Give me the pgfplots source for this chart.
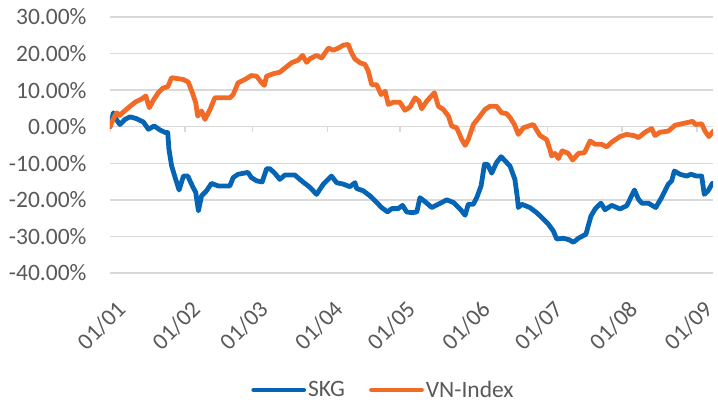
\documentclass[border=0pt]{standalone}
\usepackage{pgfplots}
\pgfplotsset{compat=1.18}
\usepackage{fontspec}
\setmainfont{Carlito}
\definecolor{skg}{HTML}{0565B4}
\definecolor{vni}{HTML}{F26B26}
\definecolor{gridc}{HTML}{D9D9D9}
\definecolor{txt}{HTML}{595959}
\begin{document}
\begin{tikzpicture}
\useasboundingbox (-110bp,-130bp) rectangle (608bp,273bp);
\begin{axis}[
  at={(0,0)}, anchor=south west,
  scale only axis, width=603bp, height=256bp,
  xmin=0, xmax=249.6, ymin=-40, ymax=30,
  axis line style={draw=none},
  major tick length=0pt,
  ytick={-40,-30,...,30},
  yticklabels={-40.00\%,-30.00\%,-20.00\%,-10.00\%,0.00\%,10.00\%,20.00\%,30.00\%},
  ymajorgrids, grid style={draw=gridc, line width=1.5bp},
  xtick={0,31,59,90,120,151,181,212,243},
  xticklabels={01/01,01/02,01/03,01/04,01/05,01/06,01/07,01/08,01/09},
  /pgf/number format/assume math mode=true,
  tick label style={font=\fontsize{23.5bp}{28bp}\selectfont, text=txt},
  yticklabel style={xshift=-20bp},
  xticklabel style={rotate=45, anchor=east, inner sep=0pt, yshift=-31bp, xshift=-14.8bp},
  legend style={at={(0.4536,-0.457)}, anchor=center, draw=none, fill=none,
    font=\fontsize{23.5bp}{28bp}\selectfont, text=txt, legend columns=2,
    /tikz/every even column/.append style={column sep=22bp}},
  legend image code/.code={\draw[#1, line cap=round] (0bp,0bp) -- (50bp,0bp);},
  every axis plot/.append style={line width=4.8bp, line join=round, line cap=round, mark=none},
]
\addplot[ycomb, draw=gridc, line width=1.5bp, line cap=butt, forget plot] coordinates {(0,-1.4) (31,-1.4) (59,-1.4) (90,-1.4) (120,-1.4) (151,-1.4) (181,-1.4) (212,-1.4) (243,-1.4)};
\draw[gridc, line width=1.5bp] (axis cs:0,0) -- (axis cs:249.6,0);
\addplot[skg] coordinates {
(0,0) (1.4,3.8) (2.8,1.8) (4.1,0.6) (6.2,2.0) (8.3,2.7) (11,2.2) (13.8,1.3) (15.9,-0.7) (18.3,0.2) (20.7,-0.9) (23,-1.6) (23.9,-1.6) (24.4,-6.2) (25.5,-10.7) (27.2,-14.4) (28.6,-17.3) (30.4,-13.5) (32.2,-13.5) (34.1,-16.2) (35.5,-18) (36.6,-23) (37.9,-18.9) (40,-17.5) (42,-15.5) (44.8,-16.2) (49.6,-16.2) (51,-13.9) (53,-13.0) (57.1,-12.5) (58.5,-13.9) (60.7,-14.8) (63,-15.1) (64.8,-11.5) (66.2,-11.5) (68.2,-12.7) (70.3,-14.4) (72.4,-13.2) (76.5,-13.2) (79.3,-14.8) (82.8,-16.6) (85.5,-18.5) (88.3,-15.7) (91.7,-13.5) (93.8,-15.3) (96.6,-15.7) (99.3,-16.4) (101.4,-15.3) (102.1,-16.9) (104.8,-17.5) (107.6,-18.9) (110.4,-20.7) (112.4,-22.1) (114.9,-23.3) (116.6,-22.4) (119.3,-22.4) (121.1,-21.5) (122.8,-23.3) (124.9,-23.5) (127,-23.3) (128.3,-19.4) (130.4,-20.5) (133.2,-22.1) (135.9,-21.2) (139.4,-20.0) (142.1,-20.7) (144.9,-22.5) (147,-24.2) (148.3,-21.2) (150.4,-21.2) (151.8,-19.4) (153.6,-16.2) (155,-10.3) (156.3,-10.3) (158,-12.7) (160,-9.8) (161.9,-8.2) (163.5,-9.3) (165.6,-10.8) (167.6,-14.4) (168.7,-19.8) (169,-22.1) (170.4,-21.2) (173.8,-22.1) (176.6,-23.5) (178.7,-24.8) (181.4,-26.6) (183.5,-28.5) (184.9,-30.7) (187.6,-30.5) (190,-30.9) (191.8,-31.6) (193.9,-30.5) (197,-29.4) (199.1,-24.4) (200.8,-22.5) (203.2,-20.9) (204.9,-22.7) (207.7,-21.5) (211.1,-22.5) (213.9,-21.6) (217.1,-17.3) (218.7,-19.8) (220.1,-20.9) (222.8,-20.9) (225.9,-22.1) (228.3,-19.4) (231.1,-15.7) (232.5,-14.8) (233.6,-12.1) (235.9,-13.0) (238.7,-13.5) (240.5,-13.0) (242.8,-13.5) (244.9,-13.5) (246,-18.5) (247.6,-17.5) (249.3,-15.5)
};
\addlegendentry{SKG}
\addplot[vni] coordinates {
(0,0) (1.4,2.2) (2.8,3.8) (4.1,3.1) (5.5,4.0) (7.6,5.2) (10.4,6.7) (13.1,7.6) (14.8,8.4) (16.3,5.2) (17.9,7.2) (20,9.3) (22,10.6) (23.9,10.9) (25.5,13.4) (27.6,13.2) (30.4,12.9) (32.4,12.2) (34.1,9.3) (35.5,6.5) (36.3,2.9) (37.9,4.3) (39.3,2.0) (41.4,4.7) (43.4,7.9) (46.2,7.9) (49.6,7.9) (51,8.8) (53,12.0) (55.8,12.9) (58.5,14.0) (60.7,13.8) (62.8,12.0) (63.9,11.3) (64.8,13.8) (67.6,14.5) (70.3,14.9) (73.1,16.4) (75.2,17.5) (77.9,18.2) (79.7,19.5) (81.4,17.6) (82.8,18.6) (85.5,19.5) (87.6,18.8) (90.4,21.5) (92.4,20.9) (94.5,21.5) (96.6,22.3) (98.6,22.5) (100,20.2) (101.4,18.5) (103.5,17.5) (105.6,17.0) (106.9,15.2) (108.3,11.5) (110.4,11.5) (112.2,8.8) (113.9,9.7) (115.2,6.1) (117.3,6.7) (120,6.7) (122.1,4.5) (124.2,5.4) (126.3,7.9) (127.9,7.0) (129,4.9) (131.1,7.0) (134.3,9.3) (135.9,5.6) (138,4.7) (140.1,2.9) (141.4,0.2) (143.5,-0.3) (145.6,-3.5) (147,-5.1) (148.3,-3.5) (150.4,0.6) (152.7,2.5) (155.2,4.7) (157.3,5.6) (160,5.6) (162.1,3.8) (164.1,3.6) (165.6,2.5) (167.4,0.6) (169,-2.1) (171.1,-0.3) (175.2,0.6) (178,-2.4) (180.7,-3.5) (182.1,-6.2) (182.8,-8.0) (184.2,-7.3) (185.6,-8.7) (187.2,-6.6) (189.7,-7.3) (191.5,-9.1) (193.9,-7.3) (196.4,-7.1) (198.7,-3.9) (200.8,-4.8) (203.5,-4.8) (205.6,-5.5) (207.7,-4.2) (211.1,-2.7) (213.9,-2.1) (217.3,-2.5) (218.7,-3.0) (221.5,-1.5) (224.2,-0.5) (225.6,-2.4) (227.7,-1.5) (231.1,-1.2) (233.9,0.4) (237.3,0.9) (240.1,1.3) (241.1,1.5) (242.4,0.6) (244.9,0.8) (246.3,-1.2) (247.9,-2.7) (249.7,-1.2)
};
\addlegendentry{VN-Index}
\end{axis}
\end{tikzpicture}
\end{document}
